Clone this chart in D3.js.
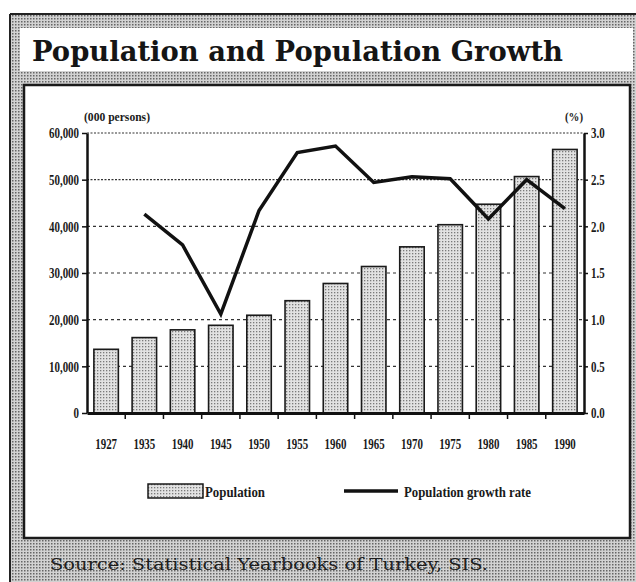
<!DOCTYPE html>
<html>
<head>
<meta charset="utf-8">
<script src="https://cdn.jsdelivr.net/npm/d3@7"></script>
<style>
  body { margin: 0; background: #fff; }
  svg { display: block; }
</style>
</head>
<body>
<div id="chart"></div>
<script>
// census years, population (000 persons), growth rate (%)
const years = ["1927", "1935", "1940", "1945", "1950", "1955", "1960", "1965", "1970", "1975", "1980", "1985", "1990"];
const population = [13648, 16158, 17821, 18790, 20947, 24065, 27755, 31391, 35605, 40348, 44737, 50664, 56473];
const rateYears = ["1935", "1940", "1945", "1950", "1955", "1960", "1965", "1970", "1975", "1980", "1985", "1990"];
const growthRate = [2.13, 1.80, 1.06, 2.17, 2.79, 2.86, 2.47, 2.53, 2.51, 2.08, 2.50, 2.19];
const leftTicks = [0, 10000, 20000, 30000, 40000, 50000, 60000];
const rightTicks = [0, 0.5, 1.0, 1.5, 2.0, 2.5, 3.0];

const width = 636, height = 582;
const plot = {left: 87, right: 584, top: 133, bottom: 413};
const tickFont = "'Liberation Serif', 'DejaVu Serif', serif";

const svg = d3.select("#chart").append("svg")
  .attr("width", width)
  .attr("height", height);

// squeeze text horizontally, the original uses a narrow face
function condense(sel, factor) {
  sel.each(function() {
    const w = this.getComputedTextLength();
    d3.select(this).attr("textLength", w * factor).attr("lengthAdjust", "spacingAndGlyphs");
  });
}

// halftone patterns
const defs = svg.append("defs");
const frameDots = defs.append("pattern")
  .attr("id", "frameDots").attr("patternUnits", "userSpaceOnUse")
  .attr("width", 3).attr("height", 3);
frameDots.append("rect").attr("width", 3).attr("height", 3).attr("fill", "#d2d2d2");
frameDots.append("rect").attr("x", 0).attr("y", 0).attr("width", 1.5).attr("height", 1.5).attr("fill", "#666");

const barDots = defs.append("pattern")
  .attr("id", "barDots").attr("patternUnits", "userSpaceOnUse")
  .attr("width", 3).attr("height", 3);
barDots.append("rect").attr("width", 3).attr("height", 3).attr("fill", "#e2e2e2");
barDots.append("rect").attr("x", 1).attr("y", 1).attr("width", 1.3).attr("height", 1.3).attr("fill", "#7a7a7a");

// outer frame
svg.append("rect")
  .attr("x", 10).attr("y", 14).attr("width", width - 10).attr("height", height - 14)
  .attr("fill", "url(#frameDots)");
svg.append("line").attr("x1", 10).attr("x2", width).attr("y1", 14).attr("y2", 14)
  .attr("stroke", "#222").attr("stroke-width", 2);
svg.append("line").attr("x1", 10).attr("x2", 10).attr("y1", 14).attr("y2", height)
  .attr("stroke", "#222").attr("stroke-width", 2);

// title panel
svg.append("rect")
  .attr("x", 20).attr("y", 28).attr("width", 613).attr("height", 43)
  .attr("fill", "#fff");
svg.append("text")
  .attr("x", 32).attr("y", 61)
  .attr("textLength", 531).attr("lengthAdjust", "spacingAndGlyphs")
  .style("font-family", "'DejaVu Serif', 'Liberation Serif', serif")
  .style("font-weight", "bold")
  .style("font-size", "27px")
  .attr("fill", "#151515")
  .text("Population and Population Growth");

// inner chart box
svg.append("rect")
  .attr("x", 24).attr("y", 85).attr("width", 606).attr("height", 453)
  .attr("fill", "#fff").attr("stroke", "#1a1a1a").attr("stroke-width", 2.5);

// source line
svg.append("text")
  .attr("x", 50).attr("y", 570)
  .attr("textLength", 438).attr("lengthAdjust", "spacingAndGlyphs")
  .style("font-family", "'DejaVu Serif', 'Liberation Serif', serif")
  .style("font-size", "16px")
  .attr("fill", "#1e1e1e")
  .text("Source: Statistical Yearbooks of Turkey, SIS.");

// scales
const x = d3.scaleBand().domain(years).range([plot.left, plot.right]);
const yLeft = d3.scaleLinear().domain([0, 60000]).range([plot.bottom, plot.top]);
const yRight = d3.scaleLinear().domain([0, 3]).range([plot.bottom, plot.top]);
const barW = x.bandwidth() * 0.64;

// gridlines
svg.append("g")
  .selectAll("line")
  .data(leftTicks.filter(d => d > 0))
  .enter()
  .append("line")
  .attr("x1", plot.left).attr("x2", plot.right)
  .attr("y1", d => yLeft(d)).attr("y2", d => yLeft(d))
  .attr("stroke", "#333")
  .attr("stroke-width", 1.2)
  .attr("stroke-dasharray", d => d >= 50000 ? "2,1.5" : "3,3");

// bars
svg.append("g")
  .selectAll("rect")
  .data(years)
  .enter()
  .append("rect")
  .attr("x", d => x(d) + (x.bandwidth() - barW) / 2)
  .attr("y", (d, i) => yLeft(population[i]))
  .attr("width", barW)
  .attr("height", (d, i) => plot.bottom - yLeft(population[i]))
  .attr("fill", "url(#barDots)")
  .attr("stroke", "#1a1a1a")
  .attr("stroke-width", 1.6);

// growth rate line
const line = d3.line()
  .x(d => x(d.year) + x.bandwidth() / 2)
  .y(d => yRight(d.rate));
svg.append("path")
  .datum(rateYears.map((yr, i) => ({year: yr, rate: growthRate[i]})))
  .attr("d", line)
  .attr("fill", "none")
  .attr("stroke", "#111")
  .attr("stroke-width", 3.5)
  .attr("stroke-linejoin", "miter");

// left axis
const leftAxis = svg.append("g")
  .attr("transform", `translate(${plot.left},0)`)
  .call(d3.axisLeft(yLeft).tickValues(leftTicks).tickSize(5).tickSizeOuter(0).tickPadding(3)
    .tickFormat(d3.format(",")));
leftAxis.select(".domain").attr("stroke", "#111").attr("stroke-width", 2.5);

// right axis
const rightAxis = svg.append("g")
  .attr("transform", `translate(${plot.right},0)`)
  .call(d3.axisRight(yRight).tickValues(rightTicks).tickSize(4).tickSizeOuter(0).tickPadding(3)
    .tickFormat(d3.format(".1f")));
rightAxis.select(".domain").attr("stroke", "#111").attr("stroke-width", 2.5);

// bottom axis: labels centred under bars, ticks between bars
const bottomAxis = svg.append("g")
  .attr("transform", `translate(0,${plot.bottom})`)
  .call(d3.axisBottom(x).tickSize(0).tickSizeOuter(0).tickPadding(35));
bottomAxis.select(".domain").attr("stroke", "#111").attr("stroke-width", 3);
bottomAxis.selectAll(".sep")
  .data(years.slice(1))
  .enter()
  .append("line")
  .attr("class", "sep")
  .attr("x1", d => x(d)).attr("x2", d => x(d))
  .attr("y1", 0).attr("y2", 6)
  .attr("stroke", "#111").attr("stroke-width", 1.5);

[leftAxis, rightAxis, bottomAxis].forEach(g => {
  g.selectAll(".tick line").attr("stroke", "#111").attr("stroke-width", 1.5);
  g.selectAll("text")
    .style("font-family", tickFont)
    .style("font-size", "14px")
    .style("font-weight", "bold")
    .attr("fill", "#1a1a1a")
    .call(condense, 0.78);
});
bottomAxis.selectAll(".tick text").attr("dy", "0").attr("y", 36);
leftAxis.selectAll(".tick text").attr("dy", "0.34em");
rightAxis.selectAll(".tick text").attr("dy", "0.34em");

// unit labels
svg.append("text")
  .attr("x", 84).attr("y", 121)
  .attr("textLength", 66).attr("lengthAdjust", "spacingAndGlyphs")
  .style("font-family", tickFont).style("font-size", "12px").style("font-weight", "bold")
  .attr("fill", "#1a1a1a")
  .text("(000 persons)");
svg.append("text")
  .attr("x", 565).attr("y", 121)
  .attr("textLength", 18).attr("lengthAdjust", "spacingAndGlyphs")
  .style("font-family", tickFont).style("font-size", "12px").style("font-weight", "bold")
  .attr("fill", "#1a1a1a")
  .text("(%)");

// legend
const legend = svg.append("g");
legend.append("rect")
  .attr("x", 148).attr("y", 484).attr("width", 55).attr("height", 14)
  .attr("fill", "url(#barDots)").attr("stroke", "#1a1a1a").attr("stroke-width", 1.5);
legend.append("text")
  .attr("x", 205).attr("y", 497)
  .attr("textLength", 60).attr("lengthAdjust", "spacingAndGlyphs")
  .style("font-family", tickFont).style("font-size", "14px").style("font-weight", "bold")
  .attr("fill", "#1a1a1a")
  .text("Population");
legend.append("line")
  .attr("x1", 344).attr("x2", 398).attr("y1", 491).attr("y2", 491)
  .attr("stroke", "#111").attr("stroke-width", 3.5);
legend.append("text")
  .attr("x", 404).attr("y", 497)
  .attr("textLength", 127).attr("lengthAdjust", "spacingAndGlyphs")
  .style("font-family", tickFont).style("font-size", "14px").style("font-weight", "bold")
  .attr("fill", "#1a1a1a")
  .text("Population growth rate");
</script>
</body>
</html>
